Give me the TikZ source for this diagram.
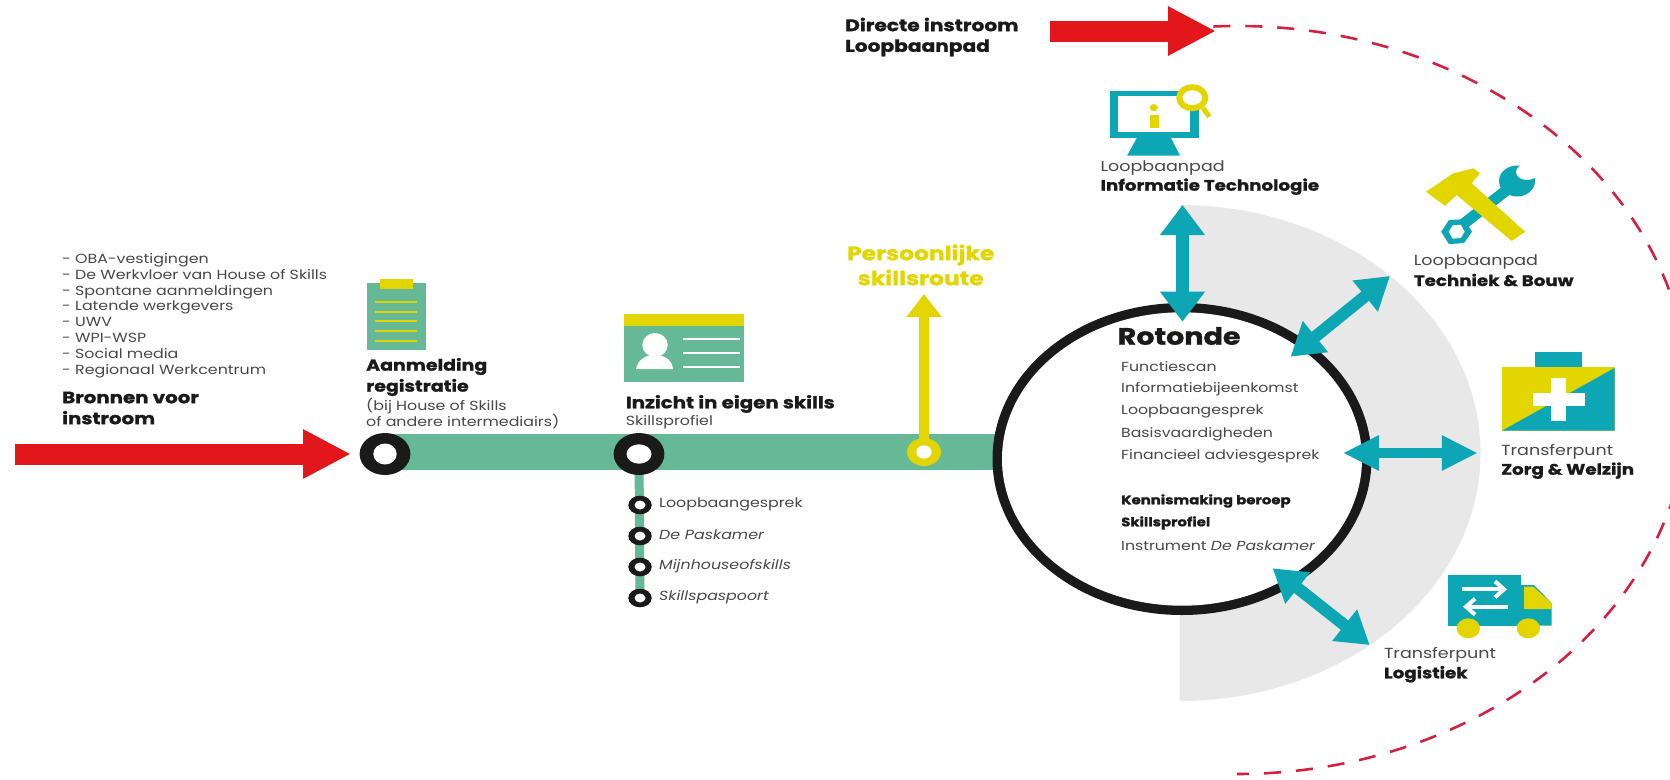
\documentclass[tikz,border=0pt]{standalone}
\usepackage{fontspec}
\setmainfont{Poppins}[FakeStretch=1.2,BoldFeatures={FakeBold=1.2}]
\usetikzlibrary{arrows.meta}
\definecolor{routegreen}{HTML}{66B996}
\definecolor{routeteal}{HTML}{0DA6B5}
\definecolor{routeyellow}{HTML}{E2D500}
\definecolor{routered}{HTML}{E3171B}
\definecolor{dashred}{HTML}{D5203F}
\definecolor{ink}{HTML}{1A1A1A}
\definecolor{soft}{HTML}{484848}
\definecolor{plate}{HTML}{E8E8E8}
\tikzset{
  txt/.style={anchor=west,inner sep=0pt,text=soft,font=\fontsize{13.2}{15.8}\selectfont},
  head/.style={anchor=west,inner sep=0pt,text=ink,font=\fontsize{16.5}{21}\selectfont\bfseries},
  midtxt/.style={anchor=west,inner sep=0pt,text=soft,font=\fontsize{14.6}{19}\selectfont},
  headb/.style={anchor=west,inner sep=0pt,text=ink,font=\fontsize{15.2}{19}\selectfont\bfseries},
  roundtxt/.style={anchor=west,inner sep=0pt,text=soft,font=\fontsize{13.1}{16}\selectfont},
  roundb/.style={anchor=west,inner sep=0pt,text=ink,font=\fontsize{12.4}{16}\selectfont\bfseries},
  redarrow/.style={draw=routered,line width=21pt,-{Triangle[length=48pt,width=46pt]}},
  tealarrow/.style n args={3}{draw=routeteal,line width=#1,{Triangle[length=#2,width=#3]}-{Triangle[length=#2,width=#3]}},
}
\newcommand{\stopring}[6]{
  \fill[#6] (#1) ellipse[x radius=#2,y radius=#3];
  \fill[white] (#1) ellipse[x radius=#4,y radius=#5];
}
\begin{document}
\begin{tikzpicture}[x=1pt,y=-1pt]
\useasboundingbox (0,0) rectangle (1670,779);
\coordinate (srcstart) at (15,454);
\coordinate (srctip) at (351,454);
\coordinate (dirstart) at (1050,31);
\coordinate (dirtip) at (1216,31);
\coordinate (stopA) at (385,454);
\coordinate (stopB) at (639,454);
\coordinate (stopY) at (924,452);
\coordinate (barA) at (385,452.2);
\coordinate (barB) at (1000,452.2);
\coordinate (routetip) at (924,294);
\coordinate (branchend) at (640,598);

\fill[plate] (1179.5,205) arc[start angle=90,end angle=-90,x radius=301pt,y radius=248pt] -- cycle;
\draw[dashred,line width=2.6pt,dash pattern=on 17pt off 15pt] (1213.3,26.5) arc[start angle=93,end angle=-90,x radius=452pt,y radius=374pt];

\draw[routegreen,line width=35.7pt] (barA) -- (barB);
\draw[routegreen,line width=9pt] (stopB) -- (branchend);
\draw[redarrow] (srcstart) -- (srctip);
\draw[redarrow] (dirstart) -- (dirtip);
\draw[routeyellow,line width=10pt,-{Triangle[length=23pt,width=34pt]}] (stopY) -- (routetip);

\stopring{stopA}{25.4pt}{21pt}{11.7pt}{10.5pt}{ink}
\stopring{stopB}{25.4pt}{21pt}{12.5pt}{9.7pt}{ink}
\stopring{stopY}{17pt}{14pt}{7.7pt}{6.7pt}{routeyellow}
\foreach \i/\ya/\lab in {1/505/Loopbaangesprek,2/536/\itshape De Paskamer,3/567/\itshape Mijnhouseofskills,4/598/\itshape Skillspaspoort}{
  \coordinate (stop\i) at (640,\ya);
  \stopring{stop\i}{11.7pt}{9.3pt}{5.5pt}{4.5pt}{ink}
  \node[txt] (stoplab\i) at (659,\ya-1) {\lab};
}

\node[txt,align=left] (sources) at (62,315.5) {- OBA-vestigingen\\- De Werkvloer van House of Skills\\- Spontane aanmeldingen\\- Latende werkgevers\\- UWV\\- WPI-WSP\\- Social media\\- Regionaal Werkcentrum};
\node[head,align=left] (bronnen) at (62,408) {Bronnen voor\\instroom};
\node[head,align=left,font=\fontsize{15.8}{21}\selectfont\bfseries] (aanmelding) at (366,377) {Aanmelding\\registratie};
\node[txt,align=left] (bij) at (366,413.3) {(bij House of Skills\\of andere intermediairs)};
\node[head] (inzicht) at (625.7,404) {Inzicht in eigen skills};
\node[txt] (profiel) at (625.7,421.7) {Skillsprofiel};
\node[align=center,inner sep=0pt,text=routeyellow,font=\fontsize{19.5}{25}\selectfont\bfseries] (route) at (920.7,265) {Persoonlijke\\skillsroute};
\node[head,align=left,font=\fontsize{16.8}{20.6}\selectfont\bfseries] (directe) at (845,37) {Directe instroom\\Loopbaanpad};

\fill[routegreen] (366.6,283) rectangle (425.6,350);
\fill[routeyellow] (380,279) rectangle (413,289);
\foreach \ya in {301.7,311.7,321.3,331.3,341}{
  \draw[routeyellow,line width=2pt] (375,\ya) -- (417,\ya);
}

\fill[routegreen] (623.7,314) rectangle (744,382);
\fill[routeyellow] (623.7,314) rectangle (744,325.7);
\fill[white] (655,345) ellipse[x radius=12.7pt,y radius=12pt];
\fill[white] (636,369) .. controls (638,358) and (648,355) .. (655,355) .. controls (662,355) and (672,358) .. (673,369) -- cycle;
\foreach \ya in {339,353,367}{
  \draw[white,line width=2pt] (683,\ya) -- (740,\ya);
}

\fill[ink] (1182,459) ellipse[x radius=189.5pt,y radius=156pt];
\fill[white] (1182,459) ellipse[x radius=180pt,y radius=146.7pt];
\node[anchor=west,inner sep=0pt,text=ink,font=\fontsize{23.8}{26}\selectfont\bfseries] (rotondelab) at (1117.5,336) {Rotonde};
\foreach \i/\ya/\lab in {1/366.7/Functiescan,2/389/Informatiebijeenkomst,3/411.7/Loopbaangesprek,4/434/Basisvaardigheden,5/456/Financieel adviesgesprek,6/546/Instrument \textit{De Paskamer}}{
  \node[roundtxt] (roundlab\i) at (1121,\ya) {\lab};
}
\node[roundb] (kennis) at (1121,501) {Kennismaking beroep};
\node[roundb] (skillsprofiel) at (1121,523) {Skillsprofiel};

\coordinate (itA) at (1182.5,205);
\coordinate (itB) at (1182.5,321.7);
\coordinate (bouwA) at (1390,276);
\coordinate (bouwB) at (1290.6,356.7);
\coordinate (zorgA) at (1477.8,453);
\coordinate (zorgB) at (1343,453);
\coordinate (logA) at (1369.7,645);
\coordinate (logB) at (1272.6,568.3);
\draw[tealarrow={13.7pt}{30pt}{43pt}] (itA) -- (itB);
\draw[tealarrow={12pt}{32pt}{38pt}] (bouwA) -- (bouwB);
\draw[tealarrow={10.7pt}{36pt}{33pt}] (zorgA) -- (zorgB);
\draw[tealarrow={12pt}{32pt}{38pt}] (logA) -- (logB);

\fill[routeteal] (1109.8,90.7) rectangle (1198.7,138.3);
\fill[white] (1117.5,96) rectangle (1190,131.7);
\fill[routeteal] (1136.8,138) -- (1171,138) -- (1180,155.7) -- (1127,155.7) -- cycle;
\fill[routeyellow] (1153.8,107.7) ellipse[x radius=4pt,y radius=3.6pt];
\fill[routeyellow] (1149.6,115) rectangle (1159,128);
\draw[routeyellow,line width=5pt] (1203,108) -- (1209.4,116.7);
\draw[routeyellow,fill=white,line width=6pt] (1192.3,97.7) ellipse[x radius=13pt,y radius=10.5pt];
\node[midtxt] (itlab) at (1100.4,168.3) {Loopbaanpad};
\node[headb] (itbold) at (1100.4,186.7) {Informatie Technologie};

\draw[routeteal,line width=11pt] (1460,226.7) -- (1506.7,190);
\fill[routeteal] (1472,231.7) -- (1464,243) -- (1449,244.2) -- (1441.2,231.7) -- (1449,220) -- (1464,219.2) -- cycle;
\fill[white] (1464.7,231.7) -- (1460.7,238) -- (1452.7,238.7) -- (1448.7,231.7) -- (1452.7,225.4) -- (1460.7,224.7) -- cycle;
\fill[routeteal] (1517,181) ellipse[x radius=18pt,y radius=15.5pt];
\fill[white] (1527,172) ellipse[x radius=11pt,y radius=8pt];
\fill[white] (1521,166) -- (1525,160) -- (1545,172) -- (1536,177.5) -- cycle;
\fill[routeyellow] (1426,191.7) -- (1453.3,173.3) -- (1473.3,168.3) -- (1480,173.3) -- (1471.7,183.3) -- (1525,231.7) -- (1511.7,241) -- (1456.7,195) -- (1445,206) -- cycle;
\node[midtxt] (bouwlab) at (1413.7,261.7) {Loopbaanpad};
\node[headb] (bouwbold) at (1413.7,280) {Techniek \& Bouw};

\fill[routeteal] (1535,352.3) rectangle (1582,367.3);
\fill[routeyellow] (1502,367.3) rectangle (1614.5,430.7);
\fill[routeteal] (1614.5,368) -- (1614.5,430.7) -- (1502,430.7) -- cycle;
\fill[white] (1551,378) rectangle (1566,420.7);
\fill[white] (1533,393.3) rectangle (1584.6,405.7);
\node[midtxt] (zorglab) at (1501,451.7) {Transferpunt};
\node[headb] (zorgbold) at (1501,470.7) {Zorg \& Welzijn};

\fill[routeteal] (1448.3,575) rectangle (1520.7,625.7);
\fill[routeteal] (1520.7,585) -- (1533.8,585) -- (1551.7,603) -- (1551.7,625.7) -- (1520.7,625.7) -- cycle;
\fill[routeyellow] (1524,586.7) -- (1533.3,586.7) -- (1551.7,603.3) -- (1551.7,609) -- (1524,609) -- cycle;
\fill[routeyellow] (1468.3,628.3) ellipse[x radius=11.7pt,y radius=10pt];
\fill[routeyellow] (1528.3,628.3) ellipse[x radius=11.7pt,y radius=10pt];
\draw[white,line width=4pt,-{Straight Barb[length=9pt,width=16pt]}] (1461.7,589.3) -- (1507,589.3);
\draw[white,line width=4pt,-{Straight Barb[length=9pt,width=16pt]}] (1508,606.7) -- (1463,606.7);
\node[midtxt] (loglab) at (1383.8,655) {Transferpunt};
\node[headb] (logbold) at (1383.8,674.3) {Logistiek};
\end{tikzpicture}
\end{document}
